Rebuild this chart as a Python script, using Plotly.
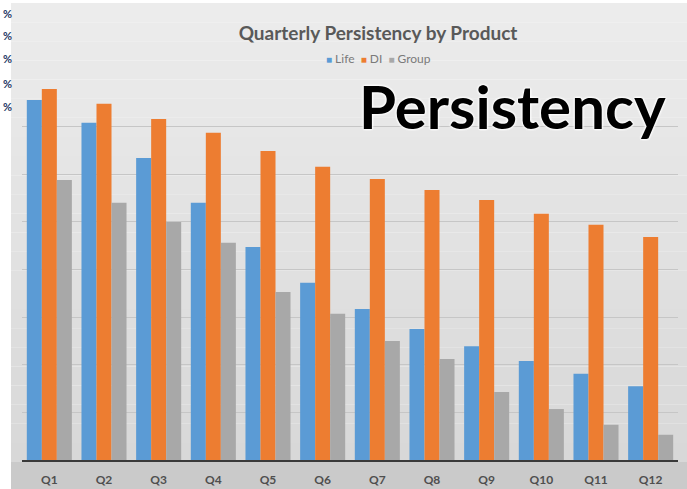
import plotly.graph_objects as go

quarters = ["Q1", "Q2", "Q3", "Q4", "Q5", "Q6", "Q7", "Q8", "Q9", "Q10", "Q11", "Q12"]
life = [75.6, 70.8, 63.4, 54.0, 44.7, 37.2, 31.7, 27.5, 23.9, 20.8, 18.1, 15.5]
di = [77.9, 74.8, 71.6, 68.7, 64.9, 61.6, 59.0, 56.7, 54.6, 51.7, 49.4, 46.8]
group = [58.8, 54.0, 50.0, 45.6, 35.3, 30.7, 25.0, 21.2, 14.3, 10.7, 7.4, 5.3]

W_PX, H_PX = 687, 489
L, R, T, B = 22, 678, 79, 460
PW, PH = R - L, B - T


def px_x(p):
    return (p - L) / PW


def px_y(p):
    return (B - p) / PH


C_LIFE, C_DI, C_GROUP = "#5b9bd5", "#ed7d31", "#a8a8a8"

fig = go.Figure()
fig.add_trace(go.Bar(x=quarters, y=life, name="Life", marker=dict(color=C_LIFE, line_width=0)))
fig.add_trace(go.Bar(x=quarters, y=di, name="DI", marker=dict(color=C_DI, line_width=0)))
fig.add_trace(go.Bar(x=quarters, y=group, name="Group", marker=dict(color=C_GROUP, line_width=0)))

shapes = []
# soft vertical gradient for the chart panel
n_bands = 24
top_px, bot_px = 3, 462
c_top, c_bot = 236, 216
for i in range(n_bands):
    y0p = top_px + (bot_px - top_px) * i / n_bands
    y1p = top_px + (bot_px - top_px) * (i + 1) / n_bands
    c = round(c_top + (c_bot - c_top) * i / (n_bands - 1))
    shapes.append(dict(type="rect", xref="paper", yref="paper", layer="below",
                       x0=px_x(11), x1=px_x(W_PX), y0=px_y(y1p), y1=px_y(y0p),
                       fillcolor=f"rgb({c},{c},{c})", line_width=0))
# label band at bottom
shapes.append(dict(type="rect", xref="paper", yref="paper", layer="below",
                   x0=px_x(11), x1=px_x(W_PX), y0=px_y(H_PX), y1=px_y(462),
                   fillcolor="#cacaca", line_width=0))

annotations = []
# legend as compact text
annotations.append(dict(
    xref="paper", yref="paper", x=px_x(378), y=px_y(58), xanchor="center", yanchor="middle",
    showarrow=False,
    text=(f"<span style='color:{C_LIFE};font-size:10px'>■</span> Life  "
          f"<span style='color:{C_DI};font-size:10px'>■</span> DI  "
          f"<span style='color:{C_GROUP};font-size:10px'>■</span> Group"),
    font=dict(family="Lato", size=12, color="#7a7a7a"),
))
# big overlay word
annotations.append(dict(
    xref="paper", yref="paper", x=px_x(512), y=px_y(106), xanchor="center", yanchor="middle",
    showarrow=False, text="<b>Persistency</b>",
    font=dict(family="Lato", size=60, color="#000000",
              shadow="0px 0px 3px #ffffff, 0px 0px 3px #ffffff, 0px 0px 3px #ffffff, 0px 0px 2px #ffffff"),
))
# "%" marks in the white strip at the far left
for py in [13, 36, 59, 83, 106]:
    annotations.append(dict(
        xref="paper", yref="paper", x=px_x(1), y=px_y(py), xanchor="left", yanchor="middle",
        showarrow=False, text="<b>%</b>",
        font=dict(family="Lato", size=11, color="#1f3864"),
    ))

fig.update_layout(
    width=W_PX, height=H_PX,
    margin=dict(l=L, r=W_PX - R, t=T, b=H_PX - B, pad=0, autoexpand=False),
    paper_bgcolor="#ffffff",
    plot_bgcolor="rgba(0,0,0,0)",
    barmode="group", bargap=0.176, bargroupgap=0,
    showlegend=False,
    title=dict(text="<b>Quarterly Persistency by Product</b>", x=378 / W_PX, xanchor="center",
               y=1 - 33 / H_PX, yanchor="middle",
               font=dict(family="Lato", size=19, color="#595959")),
    xaxis=dict(showline=True, linecolor="#3a3a3a", linewidth=1.5, automargin=False,
               ticks="outside", ticklen=8, tickcolor="rgba(0,0,0,0)",
               tickfont=dict(family="Lato", size=12, color="#4f4f4f", weight="bold"),
               showgrid=False),
    yaxis=dict(range=[0, 80], dtick=10, showgrid=True, gridcolor="#c6c6c6", gridwidth=1,
               showticklabels=False, zeroline=False, showline=False, automargin=False),
    shapes=shapes,
    annotations=annotations,
)

fig.write_html("out.html", config={"displayModeBar": False},
               post_script="document.body.style.margin='0px';document.body.style.padding='0px';")
